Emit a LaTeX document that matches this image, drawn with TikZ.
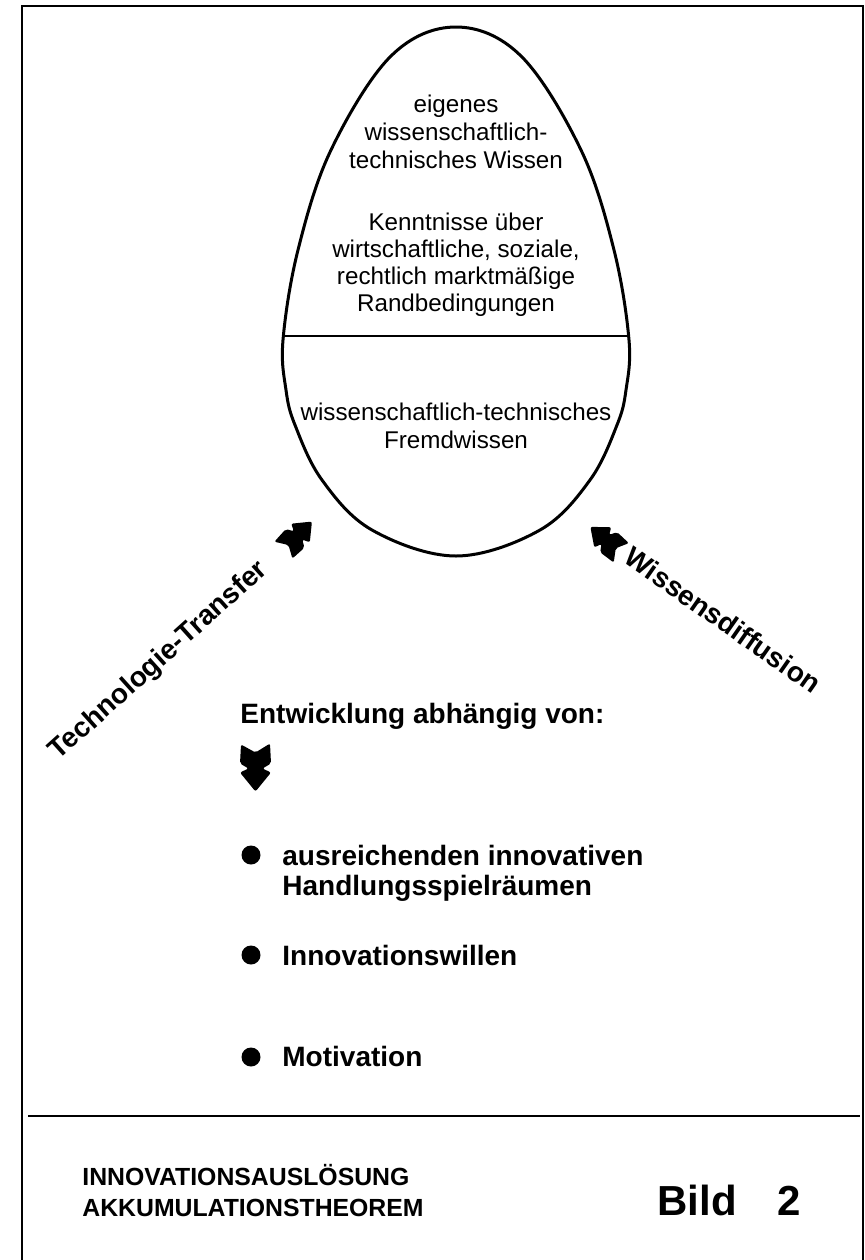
\documentclass[tikz,border=0pt]{standalone}
\usepackage{fontspec}
\setmainfont{Liberation Sans}
\tikzset{
  fatarrow/.pic={
    \fill[rounded corners=1pt] (-14.5,-23) -- (0,-15) -- (14.5,-24) -- (15.5,-4) -- (7,1) -- (15.5,5) -- (0,24) -- (-15.5,5) -- (-7,1) -- (-15.5,-4) -- cycle;
  }
}
\begin{document}
\begin{tikzpicture}[x=0.5pt,y=-0.5pt,
  frameline/.style={line width=1.25pt},
  eggline/.style={line width=1.5pt},
  eggtxt/.style={anchor=base, font=\fontsize{12.1}{14}\selectfont, inner sep=0pt},
  listtxt/.style={anchor=base west, font=\fontsize{14}{16}\selectfont\bfseries, inner sep=0pt},
  slanttxt/.style={anchor=center, font=\fontsize{14}{16}\selectfont\bfseries, inner sep=0pt},
  titletxt/.style={anchor=base west, font=\fontsize{12.4}{14}\selectfont\bfseries, inner sep=0pt},
  bildtxt/.style={anchor=base west, font=\fontsize{21}{24}\selectfont\bfseries, inner sep=0pt},
  bulletdot/.style={circle, fill=black, inner sep=0pt, minimum size=9.5pt}
]
\useasboundingbox (0,0) rectangle (865,1260);
% frame
\draw[frameline] (22,1260) -- (22,6) -- (863,6) -- (863,1260);
\draw[frameline] (28,1116) -- (860,1116);

% egg
\draw[eggline] plot[smooth cycle, tension=0.6] coordinates {(456,27) (521,56) (581,150) (614,250) (629,340) (626,390) (617,425) (590,480) (540,530) (456,556) (372,530) (322,480) (295,425) (286,390) (283,340) (298,250) (331,150) (391,56)};
\coordinate (dl) at (283,336);
\coordinate (dr) at (629,336);
\draw[line width=1pt] (dl) -- (dr);

% egg texts
\node[eggtxt] (e1) at (456,112) {eigenes};
\node[eggtxt] (e2) at (456,140) {wissenschaftlich-};
\node[eggtxt] (e3) at (456,168) {technisches Wissen};
\node[eggtxt] (e4) at (456,230) {Kenntnisse über};
\node[eggtxt] (e5) at (456,257) {wirtschaftliche, soziale,};
\node[eggtxt] (e6) at (456,284) {rechtlich marktmäßige};
\node[eggtxt] (e7) at (456,311) {Randbedingungen};
\node[eggtxt] (e8) at (456,420) {wissenschaftlich-technisches};
\node[eggtxt] (e9) at (456,448) {Fremdwissen};

% arrows
\pic[rotate=135, scale=0.85] at (297.5,536) {fatarrow};
\pic[rotate=230, scale=0.85] at (606,540) {fatarrow};
\pic at (255.5,767.5) {fatarrow};

% slanted labels
\node[slanttxt, rotate=42] (tt) at (159,661) {Technologie-Transfer};
\node[slanttxt, rotate=-35] (wd) at (723,620) {Wissensdiffusion};

% list
\node[listtxt] (ent) at (240,723) {Entwicklung abhängig von:};
\node[bulletdot] (b1) at (251,855) {};
\node[listtxt] (l1a) at (282,865) {ausreichenden innovativen};
\node[listtxt] (l1b) at (282,895) {Handlungsspielräumen};
\node[bulletdot] (b2) at (251,955) {};
\node[listtxt] (l2) at (282,965) {Innovationswillen};
\node[bulletdot] (b3) at (251,1057) {};
\node[listtxt] (l3) at (282,1066) {Motivation};

% title
\node[titletxt] (t1) at (82,1185) {INNOVATIONSAUSLÖSUNG};
\node[titletxt] (t2) at (82,1216) {AKKUMULATIONSTHEOREM};
\node[bildtxt] (bild) at (657,1215) {Bild};
\node[bildtxt] (num) at (777,1215) {2};
\end{tikzpicture}
\end{document}
